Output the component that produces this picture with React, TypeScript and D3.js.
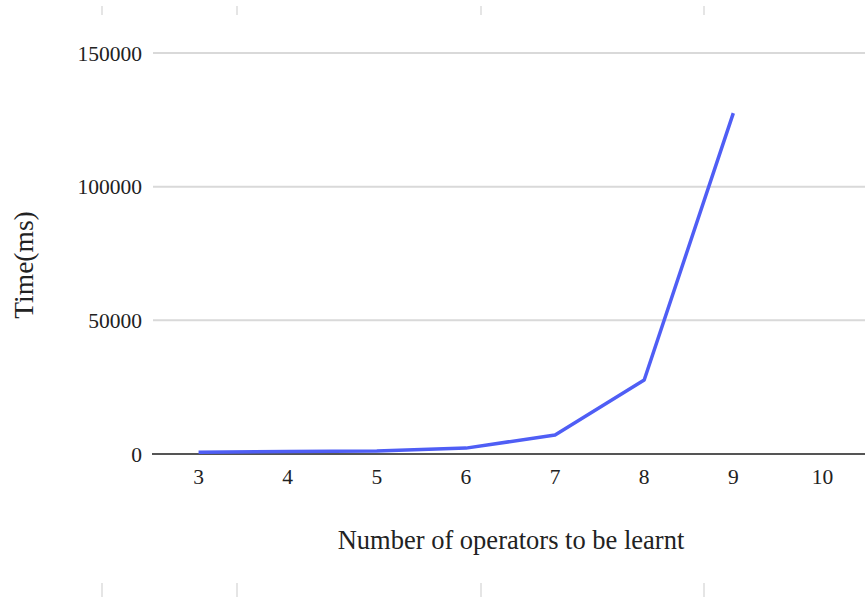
import React, { useEffect, useRef } from 'react';
import * as d3 from 'd3';

const operators = [3, 4, 5, 6, 7, 8, 9];
const timesMs = [700, 900, 1100, 2200, 7100, 27700, 127500];
const xTicks = [3, 4, 5, 6, 7, 8, 9, 10];
const yTicks = [0, 50000, 100000, 150000];
const edgeMarks = [102, 237, 481, 704];

const W = 865;
const H = 597;

export default function App() {
  const svgRef = useRef<SVGSVGElement>(null);

  useEffect(() => {
    if (!svgRef.current) return;
    const svg = d3.select(svgRef.current);
    svg.selectAll('*').remove();

    const font = '"Liberation Serif", "Times New Roman", serif';

    const x = d3.scaleLinear().domain([2.5, 10.5]).range([154, 867]);
    const y = d3.scaleLinear().domain([0, 150000]).range([454, 53]);

    // small marks at top and bottom edges
    svg.append('g')
      .selectAll('line')
      .data(edgeMarks)
      .enter()
      .append('line')
      .attr('x1', d => d).attr('x2', d => d)
      .attr('y1', 6).attr('y2', 15)
      .attr('stroke', '#ddd').attr('stroke-width', 1.5);
    svg.append('g')
      .selectAll('line')
      .data(edgeMarks)
      .enter()
      .append('line')
      .attr('x1', d => d).attr('x2', d => d)
      .attr('y1', 583).attr('y2', 597)
      .attr('stroke', '#ddd').attr('stroke-width', 1.5);

    // gridlines
    svg.append('g')
      .selectAll('line')
      .data(yTicks.filter(t => t > 0))
      .enter()
      .append('line')
      .attr('x1', 153).attr('x2', W)
      .attr('y1', d => y(d)).attr('y2', d => y(d))
      .attr('stroke', '#d9d9d9').attr('stroke-width', 2);

    // baseline
    svg.append('line')
      .attr('x1', 152).attr('x2', W)
      .attr('y1', y(0)).attr('y2', y(0))
      .attr('stroke', '#555').attr('stroke-width', 2);

    // y tick labels
    svg.append('g')
      .selectAll('text')
      .data(yTicks)
      .enter()
      .append('text')
      .attr('x', 142)
      .attr('y', d => y(d))
      .attr('dy', '0.35em')
      .attr('text-anchor', 'end')
      .attr('font-family', font)
      .attr('font-size', 21.5)
      .attr('fill', '#222')
      .text(d => String(d));

    // x tick labels
    svg.append('g')
      .selectAll('text')
      .data(xTicks)
      .enter()
      .append('text')
      .attr('x', d => x(d))
      .attr('y', 484)
      .attr('text-anchor', 'middle')
      .attr('font-family', font)
      .attr('font-size', 21.5)
      .attr('fill', '#222')
      .text(d => String(d));

    // line
    const line = d3.line<number>()
      .x((_, i) => x(operators[i]))
      .y(d => y(d));

    svg.append('path')
      .datum(timesMs)
      .attr('fill', 'none')
      .attr('stroke', '#4f5ef5')
      .attr('stroke-width', 3.5)
      .attr('stroke-linejoin', 'round')
      .attr('d', line);

    // axis titles
    svg.append('text')
      .attr('x', 511)
      .attr('y', 549)
      .attr('text-anchor', 'middle')
      .attr('font-family', font)
      .attr('font-size', 26.5)
      .attr('fill', '#222')
      .text('Number of operators to be learnt');

    svg.append('text')
      .attr('transform', 'translate(33,265) rotate(-90)')
      .attr('text-anchor', 'middle')
      .attr('font-family', font)
      .attr('font-size', 27.5)
      .attr('fill', '#222')
      .text('Time(ms)');
  }, []);

  return (
    <svg
      ref={svgRef}
      width={W}
      height={H}
      style={{ position: 'absolute', left: 0, top: 0, background: '#fff' }}
    />
  );
}
